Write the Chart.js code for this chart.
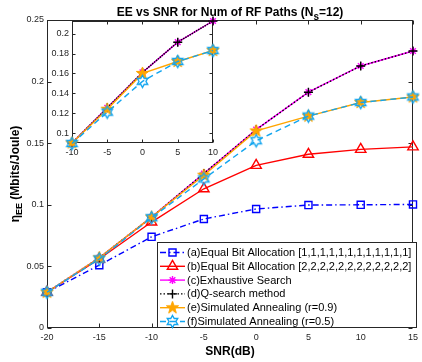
<!DOCTYPE html>
<html>
<head>
<meta charset="utf-8">
<script src="https://cdn.jsdelivr.net/npm/chart.js"></script>
<style>
  html, body { margin: 0; padding: 0; background: #fff; }
  #wrap { position: relative; width: 422px; height: 362px; }
  #main { position: absolute; left: 0; top: 0; }
  #inset { position: absolute; left: 44px; top: 11px; }
</style>
</head>
<body>
<div id="wrap">
  <canvas id="main" width="422" height="362"></canvas>
  <canvas id="inset" width="178" height="150"></canvas>
</div>
<script>
// SNR values (dB) and energy efficiency per method (Mbits/Joule)
const snr = [-20, -15, -10, -5, 0, 5, 10, 15];
const eeEqualBit1 = [0.029, 0.051, 0.074, 0.0885, 0.0966, 0.0998, 0.1, 0.1003];
const eeEqualBit2 = [0.029, 0.056, 0.086, 0.113, 0.132, 0.141, 0.145, 0.147];
const eeExhaustive = [0.029, 0.057, 0.090, 0.1254, 0.161, 0.1914, 0.2127, 0.2248];
const eeQsearch = [0.029, 0.057, 0.090, 0.1254, 0.161, 0.1914, 0.2127, 0.2248];
const eeAnneal09 = [0.029, 0.057, 0.090, 0.124, 0.160, 0.172, 0.183, 0.1875];
const eeAnneal05 = [0.029, 0.056, 0.0895, 0.121, 0.152, 0.172, 0.183, 0.1875];

const legendLabels = [
  '(a)Equal Bit Allocation [1,1,1,1,1,1,1,1,1,1,1,1]',
  '(b)Equal Bit Allocation [2,2,2,2,2,2,2,2,2,2,2,2]',
  '(c)Exhaustive Search',
  '(d)Q-search method',
  '(e)Simulated Annealing (r=0.9)',
  '(f)Simulated Annealing (r=0.5)'
];

const xTicksMain = [-20, -15, -10, -5, 0, 5, 10, 15];
const yTicksMain = [0, 0.05, 0.1, 0.15, 0.2, 0.25];
const xTicksInset = [-10, -5, 0, 5, 10];
const yTicksInset = [0.1, 0.12, 0.14, 0.16, 0.18, 0.2];

const FONT = "'Liberation Sans', Arial, Helvetica, sans-serif";
const AXIS = '#262626';

// star-shaped marker images (pentagram / hexagram)
function starMarker(points, outer, inner, fill, stroke, lw) {
  const size = Math.ceil(2 * (outer + lw)) + 2;
  const c = document.createElement('canvas');
  c.width = size; c.height = size;
  const g = c.getContext('2d');
  g.beginPath();
  for (let i = 0; i < points * 2; i++) {
    const r = i % 2 === 0 ? outer : inner;
    const a = -Math.PI / 2 + i * Math.PI / points;
    const px = size / 2 + r * Math.cos(a), py = size / 2 + r * Math.sin(a);
    if (i === 0) g.moveTo(px, py); else g.lineTo(px, py);
  }
  g.closePath();
  if (fill) { g.fillStyle = fill; g.fill(); }
  g.lineWidth = lw; g.strokeStyle = stroke; g.stroke();
  return c;
}
const pentagram = starMarker(5, 6.5, 2.6, '#ffa500', '#ffa500', 1);
const hexagram = starMarker(6, 6, 3.46, null, '#12a5ef', 1.4);

function series(values, style, xmin, xmax) {
  const pts = [];
  snr.forEach((x, i) => { if (x >= xmin && x <= xmax) pts.push({ x: x, y: values[i] }); });
  return Object.assign({
    data: pts, fill: false, tension: 0, clip: false,
    borderWidth: 1.4, pointBorderWidth: 1.4,
    pointBackgroundColor: 'rgba(0,0,0,0)'
  }, style);
}

const styles = [
  { borderColor: '#0000ff', pointBorderColor: '#0000ff', borderDash: [6, 3, 1.5, 3], pointStyle: 'rect', pointRadius: 5, order: 6 },
  { borderColor: '#ff0000', pointBorderColor: '#ff0000', pointStyle: 'triangle', pointRadius: 6, order: 5 },
  { borderColor: '#ff00ff', pointBorderColor: '#ff00ff', pointStyle: 'star', pointRadius: 4, order: 4 },
  { borderColor: '#000000', pointBorderColor: '#000000', borderDash: [1.5, 2], pointStyle: 'cross', pointRadius: 4.5, order: 3 },
  { borderColor: '#ffa500', pointBorderColor: '#ffa500', pointStyle: pentagram, pointRadius: 6, order: 2 },
  { borderColor: '#12a5ef', pointBorderColor: '#12a5ef', borderDash: [6, 4], pointStyle: hexagram, pointRadius: 6, order: 1 }
];
const allSeries = [eeEqualBit1, eeEqualBit2, eeExhaustive, eeQsearch, eeAnneal09, eeAnneal05];

// inward ticks + box, like a matlab axes
function framePlugin(xTicks, yTicks, len) {
  return {
    id: 'frame',
    beforeDatasetsDraw(chart) {
      const { ctx, chartArea: a, scales } = chart;
      const L = Math.round(a.left) + 0.5, R = Math.round(a.right) - 0.5;
      const T = Math.round(a.top) + 0.5, B = Math.round(a.bottom) - 0.5;
      ctx.save();
      ctx.fillStyle = '#fff';
      ctx.fillRect(L, T, R - L, B - T);
      ctx.strokeStyle = AXIS;
      ctx.lineWidth = 1;
      ctx.beginPath();
      xTicks.forEach(v => {
        const px = Math.round(scales.x.getPixelForValue(v)) + 0.5;
        ctx.moveTo(px, B); ctx.lineTo(px, B - len);
        ctx.moveTo(px, T); ctx.lineTo(px, T + len);
      });
      yTicks.forEach(v => {
        const py = Math.round(scales.y.getPixelForValue(v)) + 0.5;
        ctx.moveTo(L, py); ctx.lineTo(L + len, py);
        ctx.moveTo(R, py); ctx.lineTo(R - len, py);
      });
      ctx.stroke();
      ctx.strokeRect(L, T, R - L, B - T);
      ctx.restore();
    }
  };
}

// text with subscripts: parts = [[text, font, dy], ...]
function richText(ctx, parts, cx, cy) {
  let w = 0;
  parts.forEach(p => { ctx.font = p[1]; w += ctx.measureText(p[0]).width; });
  let x = cx - w / 2;
  ctx.textBaseline = 'alphabetic';
  ctx.textAlign = 'left';
  parts.forEach(p => {
    ctx.font = p[1];
    ctx.fillText(p[0], x, cy + p[2]);
    x += ctx.measureText(p[0]).width;
  });
}

const decorPlugin = {
  id: 'decor',
  afterDraw(chart) {
    const { ctx, chartArea: a } = chart;
    const mid = (a.left + a.right) / 2;
    ctx.save();
    ctx.fillStyle = '#000';
    const bold = 'bold 12px ' + FONT;
    richText(ctx, [['EE vs SNR for Num of RF Paths (N', bold, 0], ['s', 'bold 10px ' + FONT, 4], ['=12)', bold, 0]], mid, 16);
    richText(ctx, [['SNR(dB)', bold, 0]], mid, 355);
    ctx.save();
    ctx.translate(19, (a.top + a.bottom) / 2);
    ctx.rotate(-Math.PI / 2);
    richText(ctx, [['\u03b7', bold, 0], ['EE', 'bold 9px ' + FONT, 3], [' (Mbits/Joule)', bold, 0]], 0, 0);
    ctx.restore();

    // legend
    const bx = 157, by = 242, bw = 259, bh = 85;
    ctx.fillStyle = '#fff';
    ctx.fillRect(bx, by, bw, bh);
    ctx.strokeStyle = AXIS;
    ctx.lineWidth = 1;
    ctx.strokeRect(bx + 0.5, by + 0.5, bw, bh);
    chart.data.datasets.forEach((ds, i) => {
      const y = by + 10.5 + i * 13.8;
      ctx.save();
      ctx.strokeStyle = ds.borderColor;
      ctx.lineWidth = ds.borderWidth;
      ctx.setLineDash(ds.borderDash || []);
      ctx.beginPath();
      ctx.moveTo(160, y); ctx.lineTo(185, y);
      ctx.stroke();
      ctx.setLineDash([]);
      ctx.fillStyle = ds.pointBackgroundColor;
      ctx.strokeStyle = ds.pointBorderColor;
      ctx.lineWidth = ds.pointBorderWidth;
      Chart.helpers.drawPoint(ctx, { pointStyle: ds.pointStyle, radius: ds.pointRadius, rotation: 0, borderWidth: ds.pointBorderWidth }, 172.5, y);
      ctx.restore();
      ctx.fillStyle = '#000';
      ctx.font = '11px ' + FONT;
      ctx.textBaseline = 'middle';
      ctx.textAlign = 'left';
      ctx.fillText(legendLabels[i], 187, y + 0.5);
    });
    ctx.restore();
  }
};

function fmt(v) { return String(+v.toFixed(3)); }

function axes(xmin, xmax, ymin, ymax, xTicks, yTicks, yWidth, xHeight, size) {
  const tickFont = { family: FONT, size: size };
  return {
    x: {
      type: 'linear', min: xmin, max: xmax,
      grid: { display: false, drawTicks: false }, border: { display: false },
      afterBuildTicks: s => { s.ticks = xTicks.map(v => ({ value: v })); },
      afterFit: s => { s.height = xHeight; },
      ticks: { color: AXIS, font: tickFont, padding: 4, maxRotation: 0, autoSkip: false, callback: fmt }
    },
    y: {
      type: 'linear', min: ymin, max: ymax,
      grid: { display: false, drawTicks: false }, border: { display: false },
      afterBuildTicks: s => { s.ticks = yTicks.map(v => ({ value: v })); },
      afterFit: s => { s.width = yWidth; },
      ticks: { color: AXIS, font: tickFont, padding: 3, autoSkip: false, callback: fmt }
    }
  };
}

const common = {
  responsive: false, animation: false, events: [],
  plugins: { legend: { display: false }, title: { display: false }, tooltip: { enabled: false } }
};

new Chart(document.getElementById('main'), {
  type: 'line',
  data: { datasets: allSeries.map((vals, i) => series(vals, styles[i], -20, 15)) },
  options: Object.assign({}, common, {
    layout: { padding: { left: 0, right: 4, top: 20, bottom: 0 } },
    scales: axes(-20, 15, 0, 0.25, xTicksMain, yTicksMain, 47, 34, 9)
  }),
  plugins: [framePlugin(xTicksMain, yTicksMain, 4), decorPlugin]
});

// zoomed inset: only (c)-(f); the dotted line looks denser here
const insetSets = allSeries.slice(2).map((vals, i) => series(vals, styles[i + 2], -10, 10));
insetSets[1].borderDash = [1.5, 1];
new Chart(document.getElementById('inset'), {
  type: 'line',
  data: { datasets: insetSets },
  options: Object.assign({}, common, {
    layout: { padding: { left: 0, right: 7, top: 10, bottom: 0 } },
    scales: axes(-10, 10, 0.09, 0.2127, xTicksInset, yTicksInset, 28, 18, 9)
  }),
  plugins: [framePlugin(xTicksInset, yTicksInset, 3)]
});
</script>
</body>
</html>
